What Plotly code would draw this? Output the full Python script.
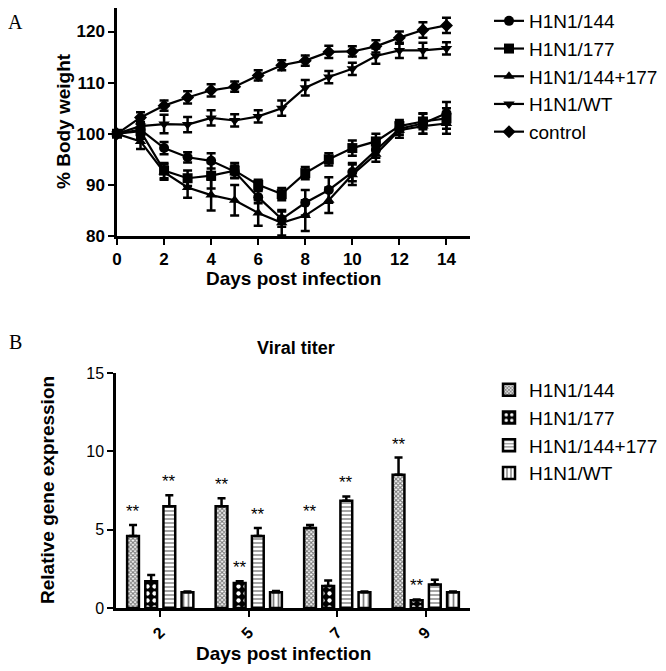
import plotly.graph_objects as go

W, H = 666, 671
OFF = 8  # page body offset
def px(x): return (x - OFF) / W
def py(y): return 1 - (y - OFF) / H

# ---------- Panel A data ----------
days = list(range(15))
names_a = ["H1N1/144", "H1N1/177", "H1N1/144+177", "H1N1/WT", "control"]
symbols_a = ["circle", "square", "triangle-up", "triangle-down", "diamond"]
w_144 = [100, 100.8, 97.2, 95.4, 94.7, 92.6, 87.6, 83.3, 86.5, 89.0, 92.5, 96.8, 101.0, 102.0, 104.0]
e_144 = [0.5, 1.5, 1.2, 1.0, 1.5, 1.2, 1.2, 1.5, 2.5, 2.5, 1.8, 1.5, 1.2, 2.0, 2.2]
w_177 = [100, 100.5, 92.8, 91.3, 91.8, 92.8, 90.0, 88.2, 92.3, 95.0, 97.2, 98.5, 101.5, 102.4, 103.0]
e_177 = [0.5, 1.5, 1.5, 1.5, 2.5, 1.5, 1.0, 1.2, 1.2, 1.2, 1.5, 1.5, 1.2, 1.5, 2.0]
w_both = [100, 98.5, 92.5, 89.5, 88.0, 87.0, 84.5, 82.6, 84.0, 87.0, 92.0, 96.0, 100.7, 101.5, 102.0]
e_both = [0.5, 1.5, 1.5, 2.0, 3.0, 3.0, 2.5, 2.5, 3.0, 2.5, 2.0, 1.5, 1.5, 1.5, 2.0]
w_wt = [100, 101.5, 101.9, 101.8, 103.1, 102.6, 103.4, 105.0, 109.0, 111.1, 112.7, 115.2, 116.3, 116.3, 116.7]
e_wt = [0.5, 1.5, 1.8, 1.5, 1.5, 1.2, 1.2, 1.5, 1.5, 1.2, 1.2, 1.5, 1.5, 1.5, 1.2]
w_ctrl = [100, 103.2, 105.5, 107.1, 108.5, 109.2, 111.4, 113.4, 114.3, 116.0, 116.1, 117.1, 118.8, 120.3, 121.2]
e_ctrl = [0.5, 1.0, 1.0, 1.2, 1.2, 1.0, 1.0, 1.0, 1.0, 1.2, 1.0, 1.2, 1.2, 1.5, 1.5]
series_a = [(w_144, e_144), (w_177, e_177), (w_both, e_both), (w_wt, e_wt), (w_ctrl, e_ctrl)]

# ---------- Panel B data ----------
groups = ["2", "5", "7", "9"]
names_b = ["H1N1/144", "H1N1/177", "H1N1/144+177", "H1N1/WT"]
v_144 = [4.6, 6.5, 5.1, 8.5]
s_144 = [0.7, 0.5, 0.2, 1.1]
v_177 = [1.7, 1.6, 1.4, 0.5]
s_177 = [0.4, 0.1, 0.35, 0.05]
v_both = [6.5, 4.6, 6.85, 1.5]
s_both = [0.7, 0.5, 0.27, 0.3]
v_wt = [1.0, 1.0, 1.0, 1.0]
s_wt = [0.05, 0.08, 0.05, 0.05]
sig_144 = [True, True, True, True]
sig_177 = [False, True, False, True]
sig_both = [True, True, True, False]
sig_wt = [False, False, False, False]
series_b = [(v_144, s_144, sig_144), (v_177, s_177, sig_177), (v_both, s_both, sig_both), (v_wt, s_wt, sig_wt)]
patterns_b = [
    dict(shape="x", size=3, solidity=0.6, fgcolor="black", bgcolor="white"),
    dict(shape=".", size=7, solidity=0.3, fgcolor="white", bgcolor="black", fillmode="replace"),
    dict(shape="-", size=4, solidity=0.35, fgcolor="black", bgcolor="white"),
    dict(shape="|", size=5, solidity=0.35, fgcolor="black", bgcolor="white"),
]

FONT = "Liberation Sans, Arial, sans-serif"
fig = go.Figure()

for i, (name, sym, (vals, errs)) in enumerate(zip(names_a, symbols_a, series_a)):
    fig.add_trace(go.Scatter(
        x=days, y=vals, name=name, mode="lines+markers",
        line=dict(color="black", width=2.2),
        marker=dict(symbol=sym, size=10, color="black"),
        error_y=dict(type="data", array=errs, color="black", thickness=2.5, width=4.5),
        cliponaxis=False, xaxis="x", yaxis="y", legend="legend",
        legendgroup=name,
    ))

bargap = 0.18
slot = (1 - bargap) / 4
for i, (name, (vals, errs, sig)) in enumerate(zip(names_b, series_b)):
    fig.add_trace(go.Bar(
        x=groups, y=vals, name=name,
        marker=dict(color="white", line=dict(color="black", width=2.5), pattern=patterns_b[i]),
        error_y=dict(type="data", array=errs, symmetric=False, arrayminus=[0]*len(errs),
                     color="black", thickness=2.5, width=4),
        xaxis="x2", yaxis="y2", legend="legend2", legendgroup="b" + name,
    ))
    off = -(1 - bargap) / 2 + slot * (i + 0.5)
    for g, (v, e, s) in enumerate(zip(vals, errs, sig)):
        if s:
            fig.add_annotation(x=g + off, y=v + e, xref="x2", yref="y2", text="**",
                               showarrow=False, yanchor="bottom", yshift=2,
                               font=dict(size=17, color="black", family=FONT))

axis_common = dict(showline=True, linecolor="black", linewidth=2.5, ticks="outside",
                   tickwidth=2, ticklen=6, tickcolor="black", showgrid=False, zeroline=False)

fig.update_layout(
    width=W, height=H, margin=dict(l=0, r=0, t=0, b=0, autoexpand=False),
    paper_bgcolor="white", plot_bgcolor="white",
    font=dict(family=FONT, color="black"),
    barmode="group", bargap=bargap, bargroupgap=0.35,
    xaxis=dict(domain=[px(117), px(470)], range=[0, 15], tickvals=list(range(0, 15, 2)),
               anchor="y", tickfont=dict(size=17, family=FONT, weight="bold"), **axis_common),
    yaxis=dict(domain=[py(236), 1], range=[80, 124.6], tickvals=[80, 90, 100, 110, 120],
               anchor="x", tickfont=dict(size=17, family=FONT, weight="bold"), **axis_common),
    xaxis2=dict(domain=[px(116), px(470)], type="category", range=[-0.5, 3.5], anchor="y2",
                tickangle=-45, tickfont=dict(size=16, family=FONT, weight="bold"), **axis_common),
    yaxis2=dict(domain=[py(608), py(373)], range=[0, 15], tickvals=[0, 5, 10, 15], anchor="x2",
                tickfont=dict(size=16, family=FONT), **axis_common),
    legend=dict(x=px(489), y=py(2), xanchor="left", yanchor="top", font=dict(size=19, family=FONT),
                tracegroupgap=0, itemwidth=30, bgcolor="rgba(0,0,0,0)"),
    legend2=dict(x=px(489), y=py(371), xanchor="left", yanchor="top", font=dict(size=19, family=FONT),
                 tracegroupgap=0, itemwidth=30, bgcolor="rgba(0,0,0,0)"),
    showlegend=True,
)

ann = [
    dict(x=px(15), y=py(22), text="A", font=dict(size=20, family="Liberation Serif, Times New Roman, serif")),
    dict(x=px(15), y=py(342), text="B", font=dict(size=20, family="Liberation Serif, Times New Roman, serif")),
    dict(x=px(293), y=py(278), text="<b>Days post infection</b>", font=dict(size=19, family=FONT)),
    dict(x=px(283), y=py(653), text="<b>Days post infection</b>", font=dict(size=19, family=FONT)),
    dict(x=px(296), y=py(348), text="<b>Viral titer</b>", font=dict(size=18, family=FONT)),
    dict(x=px(64), y=py(121), text="<b>% Body weight</b>", textangle=-90, font=dict(size=19, family=FONT)),
    dict(x=px(47), y=py(490), text="<b>Relative gene expression</b>", textangle=-90, font=dict(size=19, family=FONT)),
]
for a in ann:
    fig.add_annotation(xref="paper", yref="paper", showarrow=False, xanchor="center", yanchor="middle",
                       font_color="black", **{k: v for k, v in a.items()})

fig.write_html("out.html")
